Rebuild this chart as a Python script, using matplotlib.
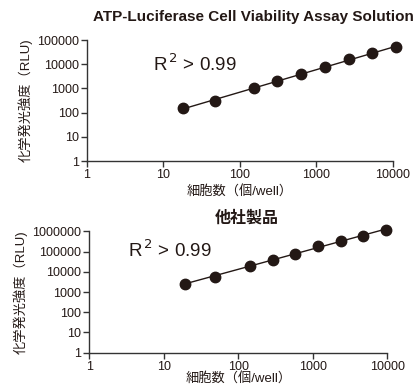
import numpy as np
import matplotlib
matplotlib.use("Agg")
import matplotlib.pyplot as plt

plt.rcParams['font.family'] = ['Liberation Sans', 'Noto Sans CJK JP', 'DejaVu Sans']

# Data
cells_top = [18, 47, 152, 307, 627, 1290, 2680, 5270, 10800]
rlu_top = [150, 310, 1000, 2090, 4060, 7400, 16400, 28000, 50000]
cells_bot = [19, 48, 143, 290, 582, 1186, 2390, 4720, 9520]
rlu_bot = [2430, 5780, 19600, 40000, 80000, 185000, 327000, 620000, 1150000]

titles = ["ATP-Luciferase Cell Viability Assay Solution", "他社製品"]
xlabel = "細胞数（個/well）"
ylabel = "化学発光強度（RLU)"
r2_text = "R$^{\\,2}$ > 0.99"
xticks = [1, 10, 100, 1000, 10000]
xticklabels = ["1", "10", "100", "1000", "10000"]
yticks_top = [1, 10, 100, 1000, 10000, 100000]
yticks_bot = [1, 10, 100, 1000, 10000, 100000, 1000000]

fig = plt.figure(figsize=(4.2, 3.85), dpi=100)
ax1 = fig.add_axes([0.2071, 0.5818, 0.7286, 0.3143])
ax2 = fig.add_axes([0.2126, 0.0839, 0.7095, 0.3153])

col = '#231815'
specs = [
    (ax1, cells_top, rlu_top, yticks_top, titles[0], dict(fontsize=11, fontweight='bold'), (0.215, 0.80), 0.545, 14, 3),
    (ax2, cells_bot, rlu_bot, yticks_bot, titles[1], dict(fontsize=11.5, fontweight='bold'), (0.13, 0.84), 0.53, 6, 0),
]
for ax, xs, ys, yt, title, tkw, r2pos, tx, tpad, xlpad in specs:
    lx = np.log10(xs)
    ly = np.log10(ys)
    m, b = np.polyfit(lx, ly, 1)
    fx = np.array([lx[0], lx[-1]])
    ax.plot(10 ** fx, 10 ** (m * fx + b), color=col, lw=1.0, clip_on=False, zorder=2)
    ax.plot(xs, ys, 'o', color=col, ms=7.5, clip_on=False, zorder=3)
    ax.set_xscale('log')
    ax.set_yscale('log')
    ax.set_xlim(1, 10000)
    ax.set_ylim(yt[0], yt[-1])
    ax.set_xticks(xticks)
    ax.set_xticklabels(xticklabels)
    ax.set_yticks(yt)
    ax.set_yticklabels([str(v) for v in yt])
    ax.minorticks_off()
    for s in ['top', 'right']:
        ax.spines[s].set_visible(False)
    for s in ['left', 'bottom']:
        ax.spines[s].set_color('#333333')
        ax.spines[s].set_linewidth(1.0)
    ax.tick_params(axis='both', direction='out', length=4, width=1.0, color='#333333',
                   labelsize=9, pad=2, labelcolor='#231815')
    ax.set_xlabel(xlabel, fontsize=9.5, labelpad=xlpad, color='#231815')
    ax.set_ylabel(ylabel, fontsize=9.5, labelpad=3, color='#231815')
    ax.set_title(title, pad=tpad, color='#231815', x=tx, **tkw)
    ax.text(r2pos[0], r2pos[1], r2_text, transform=ax.transAxes, fontsize=13.5,
            color='#231815', va='center', ha='left')

fig.savefig('out.png', dpi=100)
